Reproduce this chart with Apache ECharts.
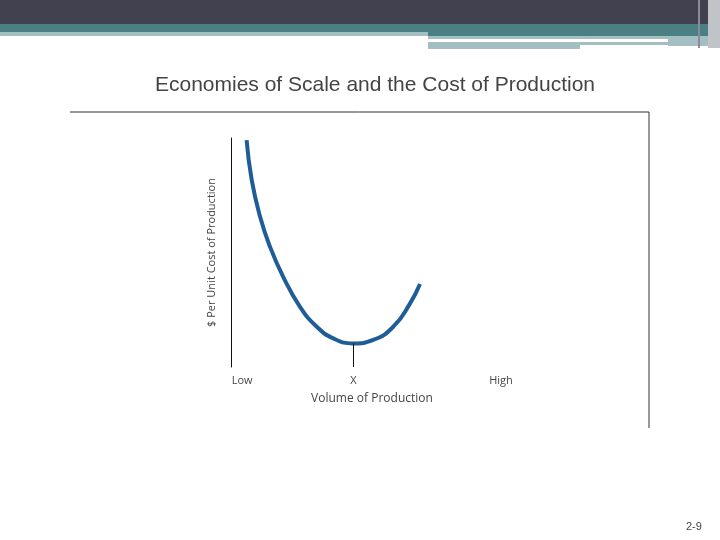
<!DOCTYPE html>
<html>
<head>
<meta charset="utf-8">
<script src="https://cdn.jsdelivr.net/npm/echarts@6/dist/echarts.min.js"></script>
<style>html,body{margin:0;padding:0;background:#fff}#chart{width:720px;height:540px}</style>
</head>
<body>
<div id="chart"></div>
<script>
// curve: [volume, unit cost]
var costCurve = [
  [5.2, 99.1], [6.9, 81.7], [9.7, 65.6], [13, 52.5], [17.4, 39.4],
  [23, 26.3], [28.6, 17.6], [34.1, 12.5], [40.8, 10.3], [47.4, 11.8],
  [54.1, 17.6], [59.7, 27.8], [63, 36.2]
];
var tickValues = [3.7, 40.8, 90];
var tickLabels = ["Low", "X", "High"];
var minPoint = [40.8, 10.3];

var chart = echarts.init(document.getElementById("chart"));
var option = {
  animation: false,
  title: {
    text: "Economies of Scale and the Cost of Production",
    left: 370, top: 70, textAlign: "center",
    textStyle: { fontFamily: "Liberation Sans", fontWeight: "normal", fontSize: 21, color: "#444" }
  },
  graphic: [
    { type: "rect", shape: { x: 0, y: 0, width: 720, height: 24 }, style: { fill: "#41414f" } },
    { type: "rect", shape: { x: 0, y: 24, width: 720, height: 8 }, style: { fill: "#4a8084" } },
    { type: "rect", shape: { x: 0, y: 32, width: 428, height: 4 }, style: { fill: "#a3bfc2" } },
    { type: "rect", shape: { x: 428, y: 32, width: 292, height: 4 }, style: { fill: "#4a8084" } },
    { type: "rect", shape: { x: 428, y: 36, width: 240, height: 3 }, style: { fill: "#a3bfc2" } },
    { type: "rect", shape: { x: 428, y: 42, width: 240, height: 3 }, style: { fill: "#a3bfc2" } },
    { type: "rect", shape: { x: 428, y: 45, width: 152, height: 4 }, style: { fill: "#a3bfc2" } },
    { type: "rect", shape: { x: 668, y: 36, width: 42, height: 10 }, style: { fill: "#a3bfc2" } },
    { type: "rect", shape: { x: 708, y: 0, width: 12, height: 48 }, style: { fill: "#c0c4c8" } },
    { type: "rect", shape: { x: 698, y: 0, width: 2, height: 48 }, style: { fill: "#8a8d98" } },
    { type: "line", shape: { x1: 70, y1: 112, x2: 649, y2: 112 }, style: { stroke: "#333", lineWidth: 1 } },
    { type: "line", shape: { x1: 649, y1: 112, x2: 649, y2: 428 }, style: { stroke: "#333", lineWidth: 1 } },
    { type: "text", left: 686, top: 521, style: { text: "2-9", fontSize: 11, fontFamily: "Liberation Sans", fill: "#444" } }
  ],
  grid: { left: 231, top: 138, width: 300, height: 229 },
  xAxis: {
    type: "value", min: 0, max: 100,
    name: "Volume of Production", nameLocation: "middle", nameGap: 26,
    nameTextStyle: { fontFamily: "Open Sans", fontSize: 12, color: "#444", padding: [0, 18, 0, 0] },
    axisLine: { show: false }, axisTick: { show: false }, splitLine: { show: false },
    axisLabel: {
      customValues: tickValues, margin: 8,
      fontFamily: "Open Sans", fontSize: 11, color: "#444",
      formatter: function (v) { return tickLabels[tickValues.indexOf(v)]; }
    }
  },
  yAxis: {
    type: "value", min: 0, max: 100,
    name: "$ Per Unit Cost of Production", nameLocation: "middle", nameGap: 14,
    nameTextStyle: { fontFamily: "Open Sans", fontSize: 11, color: "#444" },
    axisLine: { show: true, lineStyle: { color: "#111", width: 1 } },
    axisTick: { show: false }, axisLabel: { show: false }, splitLine: { show: false }
  },
  series: [{
    type: "line", data: costCurve, smooth: true, symbol: "none",
    lineStyle: { color: "#1f5d99", width: 4 },
    markLine: {
      silent: true, symbol: "none",
      lineStyle: { color: "#111", width: 1, type: "solid" },
      label: { show: false },
      data: [[{ coord: [minPoint[0], 0] }, { coord: minPoint }]]
    }
  }]
};
chart.setOption(option);
</script>
</body>
</html>
